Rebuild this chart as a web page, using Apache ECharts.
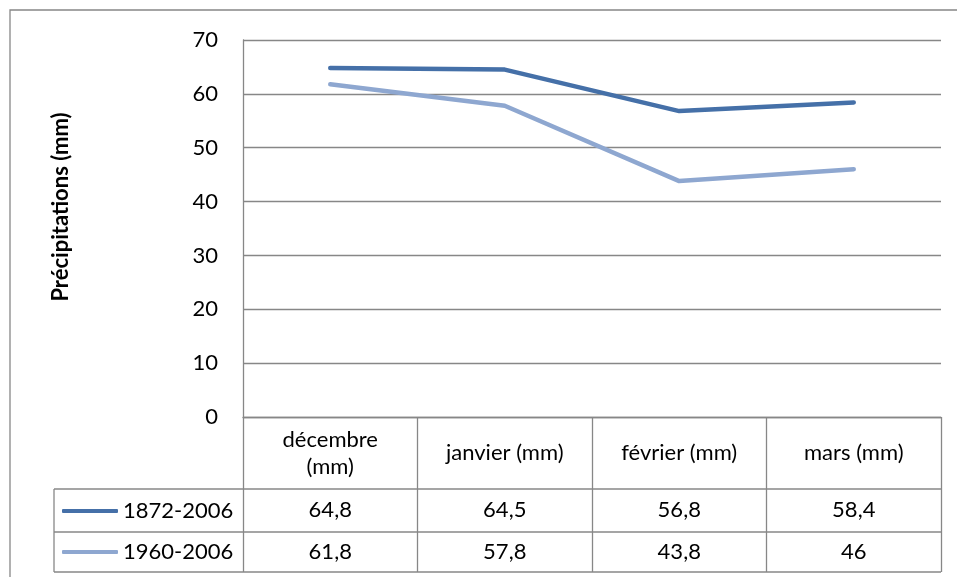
<!DOCTYPE html>
<html><head><meta charset="utf-8">
<script src="https://cdn.jsdelivr.net/npm/echarts@6/dist/echarts.min.js"></script>
<style>html,body{margin:0;padding:0;background:#fff}#c{width:957px;height:577px}</style>
</head><body><div id="c"></div>
<script>
const categories = ['décembre\n(mm)', 'janvier (mm)', 'février (mm)', 'mars (mm)'];
const seriesNames = ['1872-2006', '1960-2006'];
const values1872 = [64.8, 64.5, 56.8, 58.4];
const values1960 = [61.8, 57.8, 43.8, 46];
const yTicks = [0, 10, 20, 30, 40, 50, 60, 70];
const yTitle = 'Précipitations (mm)';

const FONT = 'Lato';
const FS = 22;
const GRID = '#878787';
const C1 = '#4570A8', C2 = '#8EA7D0';
const fmt = v => String(v).replace('.', ',');

const chart = echarts.init(document.getElementById('c'), null, {renderer: 'canvas'});
const gridLeft = 243, gridTop = 40, gridW = 698, gridH = 377;
const tableBottom = 572, row1 = 489, row2 = 532;

function valueAxis(data, margin) {
  return {
    type: 'category', data: data.map(fmt), position: 'bottom', boundaryGap: true,
    axisLine: {show: false}, axisTick: {show: false},
    axisLabel: {margin: margin, verticalAlign: 'middle', fontFamily: FONT, fontSize: FS, color: '#000'}
  };
}

function legendRow(name, centerY) {
  return {data: [name], left: 57, top: centerY - 12 - 5, orient: 'vertical', itemWidth: 56, itemHeight: 4, itemGap: 0,
    icon: 'roundRect',
    textStyle: {fontFamily: FONT, fontSize: FS, lineHeight: 24, color: '#000', padding: [0, 0, 0, 0]}};
}

chart.setOption({
  animation: false,
  textStyle: {fontFamily: FONT},
  grid: {left: gridLeft, top: gridTop, width: gridW, height: gridH},
  xAxis: [
    {
      type: 'category', data: categories, boundaryGap: true, position: 'bottom',
      axisLine: {show: true, lineStyle: {color: GRID, width: 1.3}},
      axisTick: {show: true, inside: false, length: tableBottom - (gridTop + gridH), alignWithLabel: false,
                 lineStyle: {color: GRID, width: 1.3}},
      axisLabel: {margin: 36, verticalAlign: 'middle', lineHeight: 27, fontFamily: FONT, fontSize: FS, color: '#000'}
    },
    valueAxis(values1872, 93),
    valueAxis(values1960, 135)
  ],
  yAxis: {
    type: 'value', min: yTicks[0], max: yTicks[yTicks.length - 1], interval: 10,
    axisLine: {show: true, lineStyle: {color: GRID, width: 1.3}},
    axisTick: {show: false},
    splitLine: {show: true, lineStyle: {color: GRID, width: 1.3}},
    axisLabel: {margin: 25, fontFamily: FONT, fontSize: FS, color: '#000'}
  },
  legend: [legendRow(seriesNames[0], 511), legendRow(seriesNames[1], 552)],
  series: [
    {name: seriesNames[0], type: 'line', data: values1872, xAxisIndex: 0, showSymbol: false, symbol: 'none',
     itemStyle: {color: C1}, lineStyle: {color: C1, width: 4.5, cap: 'round', join: 'round'}},
    {name: seriesNames[1], type: 'line', data: values1960, xAxisIndex: 0, showSymbol: false, symbol: 'none',
     itemStyle: {color: C2}, lineStyle: {color: C2, width: 4.5, cap: 'round', join: 'round'}}
  ],
  graphic: [
    {type: 'rect', shape: {x: 10, y: 10, width: 980, height: 600}, style: {fill: 'none', stroke: GRID, lineWidth: 1.3}, silent: true},
    {type: 'line', shape: {x1: 54, y1: row1, x2: gridLeft + gridW, y2: row1}, style: {stroke: GRID, lineWidth: 1.3}},
    {type: 'line', shape: {x1: 54, y1: row2, x2: gridLeft + gridW, y2: row2}, style: {stroke: GRID, lineWidth: 1.3}},
    {type: 'line', shape: {x1: 54, y1: tableBottom, x2: gridLeft + gridW, y2: tableBottom}, style: {stroke: GRID, lineWidth: 1.3}},
    {type: 'line', shape: {x1: 54, y1: row1, x2: 54, y2: tableBottom}, style: {stroke: GRID, lineWidth: 1.3}},
    {type: 'text', x: 61, y: 207, rotation: Math.PI / 2,
     style: {text: yTitle, fontFamily: FONT, fontWeight: 'bold', fontSize: 22, fill: '#000', align: 'center', verticalAlign: 'middle'}}
  ]
});
</script></body></html>
